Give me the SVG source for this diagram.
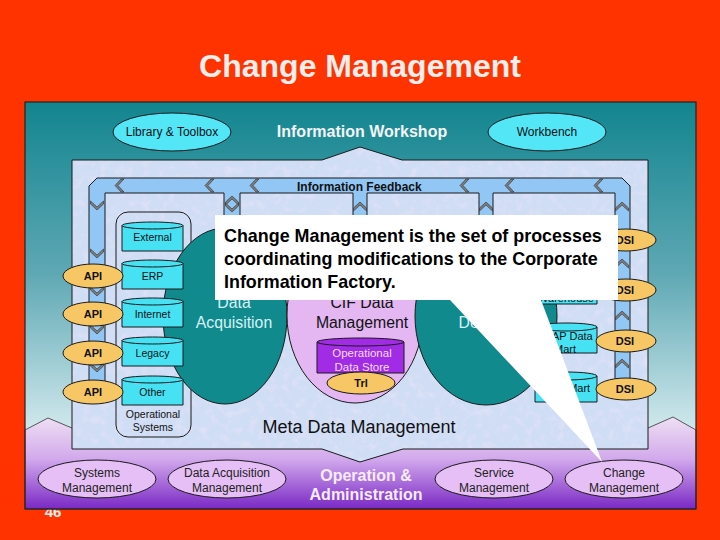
<svg xmlns="http://www.w3.org/2000/svg" width="720" height="540" viewBox="0 0 720 540">
<defs>
<style>
text{font-family:"Liberation Sans",Arial,Helvetica,sans-serif}
.c{text-anchor:middle}
.s11{font-size:11px;fill:#111}
.s10{font-size:10.5px;fill:#111}
.b11{font-size:11px;font-weight:bold;fill:#111}
.ol{stroke:#1a1a1a;stroke-width:1}
.cyan{fill:#46E2F3}
.orng{fill:#F7C765}
.lav{fill:#E6BFF6}
.teal{fill:#118A8E}
.tube{fill:#92C6F4}
.chev{fill:#7d7d7d;stroke:#2e2e2e;stroke-width:0.6}
</style>
<linearGradient id="gTeal" x1="0" y1="102" x2="0" y2="445" gradientUnits="userSpaceOnUse">
<stop offset="0" stop-color="#12858F"/><stop offset="0.5" stop-color="#5EA8B4"/><stop offset="1" stop-color="#DCEFF2"/>
</linearGradient>
<linearGradient id="gPurp" x1="0" y1="418" x2="0" y2="509" gradientUnits="userSpaceOnUse">
<stop offset="0" stop-color="#EEDFF3"/><stop offset="0.45" stop-color="#D2A9EC"/><stop offset="1" stop-color="#7A28C4"/>
</linearGradient>
<filter id="tex" x="0" y="0" width="1" height="1">
<feTurbulence type="fractalNoise" baseFrequency="0.12" numOctaves="3" seed="7" result="n"/>
<feColorMatrix in="n" type="matrix" values="0 0 0 0 0.92  0 0 0 0 0.82  0 0 0 0 0.95  2.0 0 0 0 -0.9"/>
</filter>
<clipPath id="boxClip"><path d="M72,160 H322 L360,147 L402,160 H648 V449 H403 L360,462 L322,449 H72 Z"/></clipPath>
<path id="chev" class="chev" d="M2,-6.5 L-4,0 L2,6.5 L5,6.5 L-1,0 L5,-6.5 Z"/>
<g id="cylS">
<path class="cyan ol" d="M0,3.5 A30.5,3.5 0 0 1 61,3.5 V29 H0 Z"/>
<path fill="none" class="ol" d="M0,3.5 A30.5,3.5 0 0 0 61,3.5"/>
</g>
<g id="cylR">
<path class="cyan ol" d="M0,4 A31,4 0 0 1 62,4 V30 H0 Z"/>
<path fill="none" class="ol" d="M0,4 A31,4 0 0 0 62,4"/>
</g>
</defs>

<rect width="720" height="540" fill="#FF3300"/>
<text x="53" y="517" class="c" font-size="15" font-weight="bold" fill="#F2EEEC">46</text>
<text x="360" y="77" class="c" font-size="32" font-weight="bold" fill="#F2EEEC">Change Management</text>

<g id="panel">
<rect x="25" y="102" width="671" height="407" fill="url(#gTeal)"/>
<polygon points="25,430 48,418 72,428 648,428 673,417 696,430 696,509 25,509" fill="url(#gPurp)" stroke="#333" stroke-width="0.8"/>
<rect x="25" y="102" width="671" height="407" fill="none" stroke="#222" stroke-width="1.2"/>
</g>

<g id="library-toolbox">
<ellipse cx="172" cy="132" rx="59" ry="19" fill="#52E6F7" class="ol"/>
<text x="172" y="136" class="c" font-size="12" fill="#111">Library &amp; Toolbox</text>
</g>
<g id="information-workshop">
<text x="362" y="137" class="c" font-size="16" font-weight="bold" fill="#F4F4F4">Information Workshop</text>
</g>
<g id="workbench">
<ellipse cx="547" cy="132" rx="59" ry="19" fill="#52E6F7" class="ol"/>
<text x="547" y="136" class="c" font-size="12" fill="#111">Workbench</text>
</g>

<g id="workspace">
<path d="M72,160 H322 L360,147 L402,160 H648 V449 H403 L360,462 L322,449 H72 Z" fill="#CFDDF5"/>
<rect x="72" y="147" width="576" height="315" fill="#fff" filter="url(#tex)" clip-path="url(#boxClip)" opacity="0.5"/>
<path d="M72,160 H322 L360,147 L402,160 H648 V449 H403 L360,462 L322,449 H72 Z" fill="none" stroke="#1a1a1a" stroke-width="1"/>
</g>

<g id="connectors">
<path class="tube" fill-rule="evenodd" d="M89,398 V186 L97,178 H622 L630,186 V398 Z M105,398 V193 H224 V398 Z M240,398 V193 H353 V398 Z M367,398 V193 H479 V398 Z M493,398 V193 H615 V398 Z"/>
<path fill="none" class="ol" d="M89,398 V186 L97,178 H622 L630,186 V398 M105,398 V193 H224 V398 M240,398 V193 H353 V398 M367,398 V193 H479 V398 M493,398 V193 H615 V398"/>
<use href="#chev" x="119" y="185.5"/>
<use href="#chev" x="209" y="185.5"/>
<use href="#chev" x="254" y="185.5"/>
<use href="#chev" x="464" y="185.5"/>
<use href="#chev" x="509" y="185.5"/>
<use href="#chev" x="598" y="185.5"/>
<use href="#chev" transform="translate(97,206) rotate(-90)"/>
<use href="#chev" transform="translate(97,254) rotate(-90)"/>
<use href="#chev" transform="translate(97,292) rotate(-90)"/>
<use href="#chev" transform="translate(97,330) rotate(-90)"/>
<use href="#chev" transform="translate(97,368) rotate(-90)"/>
<use href="#chev" transform="translate(622,206) rotate(90)"/>
<use href="#chev" transform="translate(622,263) rotate(90)"/>
<use href="#chev" transform="translate(622,315) rotate(90)"/>
<use href="#chev" transform="translate(622,363) rotate(90)"/>
<use href="#chev" transform="translate(232,200) rotate(90)"/>
<use href="#chev" transform="translate(232,208) rotate(-90)"/>
<use href="#chev" transform="translate(360,206) rotate(90)"/>
<use href="#chev" transform="translate(486,206) rotate(90)"/>
<text x="297" y="191" font-size="12" font-weight="bold" fill="#111">Information Feedback</text>
</g>

<g id="operational-systems">
<rect x="116" y="212" width="75" height="225" rx="12" fill="none" class="ol"/>
<text x="153" y="418" class="c s10">Operational</text>
<text x="153" y="431" class="c s10">Systems</text>
</g>

<g id="data-acquisition">
<ellipse cx="225" cy="316" rx="62" ry="88" class="teal ol"/>
<text x="234" y="308" class="c" font-size="15.8" fill="#D6F2F6">Data</text>
<text x="234" y="328" class="c" font-size="15.8" fill="#D6F2F6">Acquisition</text>
</g>

<g id="cif-data-management">
<ellipse cx="355" cy="315" rx="68" ry="88" fill="#E4B6F2" class="ol"/>
<text x="362" y="308" class="c" font-size="15.8" fill="#111">CIF Data</text>
<text x="362" y="328" class="c" font-size="15.8" fill="#111">Management</text>
</g>
<g id="operational-data-store">
<path d="M317,342 A43.5,4 0 0 1 404,342 V373 H317 Z" fill="#A22BE6" class="ol"/>
<path d="M317,342 A43.5,4 0 0 0 404,342" fill="none" class="ol"/>
<text x="362" y="357" class="c" font-size="11.5" fill="#F2DEFF">Operational</text>
<text x="362" y="371" class="c" font-size="11.5" fill="#F2DEFF">Data Store</text>
</g>
<g id="trl">
<ellipse cx="361" cy="383" rx="34" ry="11" class="orng ol"/>
<text x="361" y="387" class="c b11">Trl</text>
</g>

<g id="data-delivery">
<ellipse cx="486" cy="316" rx="71" ry="89" class="teal ol"/>
<text x="487" y="328" class="c" font-size="15.8" fill="#D6F2F6">Delivery</text>
</g>

<g id="external"><use href="#cylS" x="122" y="222"/><text x="152.5" y="240.5" class="c s10">External</text></g>
<g id="erp"><use href="#cylS" x="122" y="260"/><text x="152.5" y="279.5" class="c s10">ERP</text></g>
<g id="internet"><use href="#cylS" x="122" y="298"/><text x="152.5" y="317.5" class="c s10">Internet</text></g>
<g id="legacy"><use href="#cylS" x="122" y="337"/><text x="152.5" y="356.5" class="c s10">Legacy</text></g>
<g id="other"><use href="#cylS" x="122" y="376"/><text x="152.5" y="395.5" class="c s10">Other</text></g>

<g id="api-1"><ellipse cx="93" cy="276" rx="30" ry="12" class="orng ol"/><text x="93" y="280" class="c b11">API</text></g>
<g id="api-2"><ellipse cx="93" cy="314" rx="30" ry="12" class="orng ol"/><text x="93" y="318" class="c b11">API</text></g>
<g id="api-3"><ellipse cx="93" cy="353" rx="30" ry="12" class="orng ol"/><text x="93" y="357" class="c b11">API</text></g>
<g id="api-4"><ellipse cx="93" cy="392" rx="30" ry="12" class="orng ol"/><text x="93" y="396" class="c b11">API</text></g>

<g id="data-warehouse">
<path class="cyan ol" d="M535,276 A31,4 0 0 1 597,276 V304 H535 Z"/>
<text x="566" y="301.5" class="c s11">Warehouse</text>
</g>
<g id="olap-data-mart">
<use href="#cylR" x="535" y="323"/>
<text x="565" y="340" class="c s11">OLAP Data</text>
<text x="565" y="353" class="c s11">Mart</text>
</g>
<g id="data-mart">
<use href="#cylR" x="535" y="372"/>
<text x="566" y="392" class="c s11">Data Mart</text>
</g>

<g id="dsi-1"><ellipse cx="626" cy="240" rx="30" ry="11" class="orng ol"/><text x="625" y="244" class="c b11">DSI</text></g>
<g id="dsi-2"><ellipse cx="626" cy="290" rx="30" ry="11" class="orng ol"/><text x="625" y="294" class="c b11">DSI</text></g>
<g id="dsi-3"><ellipse cx="626" cy="341" rx="30" ry="11" class="orng ol"/><text x="625" y="345" class="c b11">DSI</text></g>
<g id="dsi-4"><ellipse cx="626" cy="389" rx="30" ry="11" class="orng ol"/><text x="625" y="393" class="c b11">DSI</text></g>

<g id="meta-data-management">
<text x="359" y="433" class="c" font-size="18" fill="#111">Meta Data Management</text>
</g>

<g id="systems-management">
<ellipse cx="97" cy="479" rx="59" ry="19" class="lav ol"/>
<text x="97" y="477" class="c" font-size="12" fill="#222">Systems</text>
<text x="97" y="492" class="c" font-size="12" fill="#222">Management</text>
</g>
<g id="data-acquisition-management">
<ellipse cx="227" cy="479" rx="59" ry="19" class="lav ol"/>
<text x="227" y="477" class="c" font-size="12" fill="#222">Data Acquisition</text>
<text x="227" y="492" class="c" font-size="12" fill="#222">Management</text>
</g>
<g id="operation-administration">
<text x="366" y="481" class="c" font-size="16" font-weight="bold" fill="#F6ECFF">Operation &amp;</text>
<text x="366" y="500" class="c" font-size="16" font-weight="bold" fill="#F6ECFF">Administration</text>
</g>
<g id="service-management">
<ellipse cx="494" cy="479" rx="59" ry="19" class="lav ol"/>
<text x="494" y="477" class="c" font-size="12" fill="#222">Service</text>
<text x="494" y="492" class="c" font-size="12" fill="#222">Management</text>
</g>
<g id="change-management">
<ellipse cx="624" cy="479" rx="59" ry="19" class="lav ol"/>
<text x="624" y="477" class="c" font-size="12" fill="#222">Change</text>
<text x="624" y="492" class="c" font-size="12" fill="#222">Management</text>
</g>

<g id="callout">
<path d="M215,215 H618 V300 H541 L602,462 L450,300 H215 Z" fill="#FFFFFF"/>
<text x="224" y="242" font-size="17.9" font-weight="bold" fill="#000">Change Management is the set of processes</text>
<text x="224" y="265" font-size="17.9" font-weight="bold" fill="#000">coordinating modifications to the Corporate</text>
<text x="224" y="288" font-size="17.9" font-weight="bold" fill="#000">Information Factory.</text>
</g>
</svg>
